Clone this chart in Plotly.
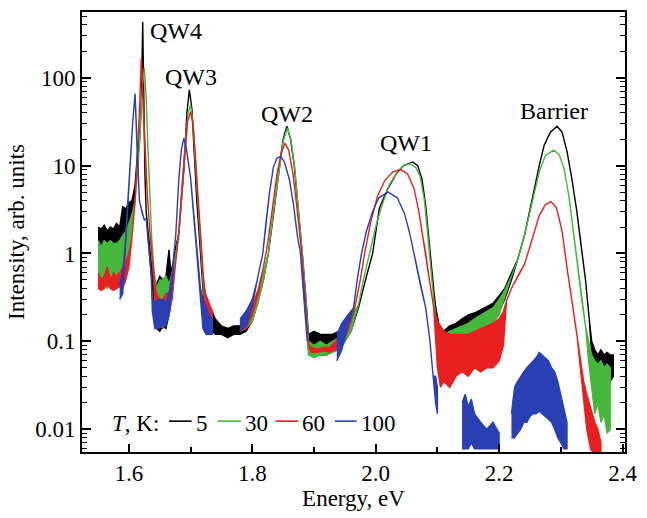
import math
import plotly.graph_objects as go

# Photoluminescence spectra at four temperatures.
# Each spectrum: photon energy (eV), lower and upper edge of the noisy trace.
# A row of None splits the trace where no data were recorded.

E_5K = [1.550, 1.555, 1.560, 1.565, 1.570, 1.575, 1.580, 1.585, 1.590, 1.595,
        1.600, 1.605, 1.610, 1.614, 1.617, 1.620, 1.6224, 1.6245, 1.626, 1.628,
        1.632, 1.636, 1.640, 1.645, 1.650, 1.655, 1.660, 1.665, 1.668, 1.672,
        1.676, 1.681, 1.685, 1.689, 1.694, 1.698, 1.702, 1.706, 1.710, 1.714,
        1.718, 1.722, 1.726, 1.730, 1.735, 1.740, 1.750, 1.760, 1.770, 1.780,
        1.790, 1.800, 1.809, 1.818, 1.826, 1.835, 1.844, 1.850, 1.856, 1.862,
        1.868, 1.875, 1.881, 1.887, 1.891, 1.900, 1.910, 1.920, 1.930, 1.940,
        1.950, 1.960, 1.972, 1.985, 1.995, 2.006, 2.020, 2.033, 2.045, 2.060,
        2.068, 2.075, 2.081, 2.086, 2.091, 2.096, 2.102, 2.110, 2.120, 2.130,
        2.140, 2.150, 2.160, 2.170, 2.180, 2.190, 2.200, 2.209, 2.220, 2.230,
        2.241, 2.250, 2.257, 2.265, 2.273, 2.283, 2.294, 2.302, 2.310, 2.318,
        2.326, 2.333, 2.340, 2.346, 2.350, 2.355, 2.360, 2.365, 2.370, 2.375,
        2.380, 2.385]
LO_5K = [0.95, 0.90, 0.95, 0.90, 1.00, 0.95, 1.00, 1.05, 1.10, 1.20,
         1.60, 2.50, 5.0, 13, 18, 50, 430, 40, 8, 3.0,
         1.3, 0.6, 0.30, 0.14, 0.13, 0.15, 0.14, 0.20, 0.30, 0.50,
         1.0, 1.7, 4, 9, 40, 73, 45, 15, 4, 1.6,
         0.7, 0.25, 0.13, 0.12, 0.13, 0.12, 0.12, 0.11, 0.12, 0.12,
         0.13, 0.17, 0.28, 0.50, 1.0, 3, 10, 20, 28, 20,
         10, 3, 1, 0.3, 0.08, 0.07, 0.07, 0.07, 0.08, 0.08,
         0.10, 0.13, 0.24, 0.55, 1.0, 3.3, 5.5, 8, 10, 11,
         10, 7, 3.5, 1.5, 0.6, 0.28, 0.12, 0.095, 0.10, 0.11,
         0.12, 0.13, 0.15, 0.16, 0.17, 0.19, 0.22, 0.30, 0.50, 0.85,
         1.6, 3.0, 5.3, 10, 17, 24, 28, 24, 14.5, 7,
         3.0, 1.2, 0.5, 0.18, 0.07, 0.04, 0.035, 0.04, 0.035, 0.04,
         0.035, 0.04]
HI_5K = [2.0, 1.9, 2.1, 1.8, 2.0, 1.9, 2.2, 2.0, 3.4, 3.2,
         3.8, 4.0, 6.0, 14, 20, 50, 430, 40, 8, 3.0,
         1.5, 0.8, 0.50, 0.45, 0.55, 0.50, 0.55, 1.10, 0.60, 0.80,
         1.2, 1.7, 4, 9, 40, 73, 45, 15, 4, 1.6,
         0.7, 0.40, 0.30, 0.25, 0.22, 0.18, 0.15, 0.14, 0.15, 0.15,
         0.17, 0.22, 0.32, 0.55, 1.0, 3, 10, 20, 28, 20,
         10, 3, 1, 0.3, 0.12, 0.13, 0.12, 0.12, 0.12, 0.13,
         0.15, 0.18, 0.24, 0.55, 1.0, 3.3, 5.5, 8, 10, 11,
         10, 7, 3.5, 1.5, 0.6, 0.28, 0.16, 0.13, 0.15, 0.16,
         0.18, 0.20, 0.21, 0.23, 0.25, 0.27, 0.33, 0.40, 0.60, 0.85,
         1.6, 3.0, 5.3, 10, 17, 24, 28, 24, 14.5, 7,
         3.0, 1.2, 0.5, 0.18, 0.10, 0.08, 0.07, 0.08, 0.07, 0.075,
         0.07, 0.07]

E_30K = [1.550, 1.555, 1.560, 1.565, 1.570, 1.575, 1.580, 1.585, 1.590, 1.595,
         1.600, 1.605, 1.610, 1.615, 1.619, 1.622, 1.625, 1.628, 1.631, 1.634,
         1.637, 1.641, 1.645, 1.650, 1.655, 1.660, 1.665, 1.670, 1.675, 1.681,
         1.686, 1.691, 1.696, 1.700, 1.704, 1.708, 1.712, 1.716, 1.720, 1.724,
         1.728, 1.735, None, 1.780, 1.790, 1.800, 1.809, 1.818, 1.826, 1.835,
         1.844, 1.850, 1.857, 1.863, 1.869, 1.875, 1.881, 1.887, 1.891, 1.900,
         1.910, 1.920, 1.930, 1.940, 1.950, 1.960, 1.972, 1.980, 1.990, 2.000,
         2.010, 2.022, 2.035, 2.045, 2.055, 2.065, 2.072, 2.079, 2.084, 2.089,
         2.094, 2.100, 2.110, 2.120, 2.130, 2.140, 2.150, 2.160, 2.170, 2.180,
         2.190, 2.200, 2.209, 2.220, 2.230, 2.241, 2.250, 2.257, 2.265, 2.275,
         2.288, 2.297, 2.305, 2.313, 2.321, 2.328, 2.334, 2.340, 2.345, 2.350,
         2.355, 2.360, 2.365, 2.370, 2.375, 2.380]
LO_30K = [0.45, 0.40, 0.45, 0.40, 0.45, 0.40, 0.42, 0.45, 0.50, 0.60,
          1.0, 2.0, 4, 10, 30, 80, 130, 60, 15, 4,
          1.5, 0.6, 0.15, 0.20, 0.20, 0.25, 0.20, 0.35, 0.8, 1.7,
          5, 17, 40, 49, 30, 10, 3.5, 1.3, 0.5, 0.20,
          0.13, 0.13, None, 0.13, 0.14, 0.17, 0.27, 0.50, 1.0, 3.2,
          10, 19, 27, 19, 9, 3, 1, 0.3, 0.07, 0.065,
          0.07, 0.07, 0.075, 0.08, 0.10, 0.13, 0.26, 0.5, 1.0, 2.0,
          3.5, 6, 8.5, 10, 10.5, 9.5, 7.5, 4, 1.8, 0.7,
          0.3, 0.07, 0.075, 0.08, 0.09, 0.10, 0.10, 0.12, 0.13, 0.14,
          0.16, 0.20, 0.32, 0.55, 0.85, 1.6, 3.0, 5.0, 8.5, 13,
          15, 13.5, 9.4, 4.5, 1.65, 0.65, 0.29, 0.15, 0.06, 0.03,
          0.015, 0.02, 0.012, 0.015, 0.009, 0.010]
HI_30K = [1.40, 1.20, 1.40, 1.30, 1.40, 1.30, 1.30, 1.40, 1.60, 1.80,
          2.2, 2.8, 4, 10, 30, 80, 130, 60, 15, 4,
          1.5, 0.6, 0.40, 0.50, 0.50, 0.55, 0.45, 0.60, 0.9, 1.7,
          5, 17, 40, 49, 30, 10, 3.5, 1.3, 0.5, 0.30,
          0.25, 0.20, None, 0.17, 0.19, 0.23, 0.32, 0.60, 1.0, 3.2,
          10, 19, 27, 19, 9, 3, 1, 0.3, 0.10, 0.09,
          0.10, 0.09, 0.10, 0.11, 0.14, 0.19, 0.26, 0.5, 1.0, 2.0,
          3.5, 6, 8.5, 10, 10.5, 9.5, 7.5, 4, 1.8, 0.7,
          0.3, 0.14, 0.12, 0.13, 0.14, 0.15, 0.16, 0.18, 0.20, 0.22,
          0.24, 0.30, 0.38, 0.55, 0.85, 1.6, 3.0, 5.0, 8.5, 13,
          15, 13.5, 9.4, 4.5, 1.65, 0.65, 0.29, 0.15, 0.10, 0.07,
          0.06, 0.055, 0.06, 0.05, 0.055, 0.05]

E_60K = [1.550, 1.555, 1.560, 1.565, 1.570, 1.575, 1.580, 1.585, 1.590, 1.595,
         1.600, 1.605, 1.610, 1.614, 1.617, 1.620, 1.623, 1.626, 1.630, 1.634,
         1.638, 1.642, 1.645, 1.650, 1.655, 1.660, 1.665, 1.670, 1.675, 1.680,
         1.685, 1.690, 1.695, 1.700, 1.704, 1.708, 1.712, 1.716, 1.720, 1.724,
         1.728, 1.735, None, 1.780, 1.790, 1.800, 1.810, 1.818, 1.825, 1.832,
         1.840, 1.847, 1.853, 1.859, 1.866, 1.873, 1.880, 1.886, 1.890, 1.895,
         1.905, 1.915, 1.925, 1.935, 1.945, 1.955, 1.966, 1.975, 1.982, 1.992,
         2.003, 2.015, 2.028, 2.041, 2.052, 2.062, 2.070, 2.076, 2.081, 2.088,
         2.094, 2.100, 2.105, 2.110, 2.120, 2.130, 2.140, 2.150, 2.160, 2.170,
         2.180, 2.190, 2.200, 2.207, 2.212, 2.220, 2.230, 2.241, 2.250, 2.257,
         2.265, 2.275, 2.284, 2.293, 2.302, 2.310, 2.318, 2.326, 2.333, 2.337,
         2.342, 2.348, 2.355, 2.360, 2.365]
LO_60K = [0.40, 0.38, 0.40, 0.45, 0.40, 0.38, 0.40, 0.42, 0.40, 0.50,
          0.70, 1.5, 4, 14, 40, 165, 60, 15, 4.5, 1.8,
          0.8, 0.35, 0.15, 0.15, 0.14, 0.16, 0.20, 0.30, 0.7, 1.5,
          4, 13, 32, 41, 30, 12, 4.5, 1.6, 0.6, 0.25,
          0.14, 0.13, None, 0.13, 0.14, 0.20, 0.35, 0.7, 1.3, 3,
          8, 14, 18, 15, 8, 3, 1, 0.3, 0.10, 0.075,
          0.075, 0.078, 0.075, 0.08, 0.09, 0.13, 0.24, 0.5, 1.0, 2.3,
          4.5, 6.8, 8.5, 9, 8, 5.5, 3, 1.6, 1.0, 0.45,
          0.24, 0.05, 0.03, 0.035, 0.03, 0.04, 0.045, 0.04, 0.05, 0.045,
          0.05, 0.05, 0.06, 0.09, 0.29, 0.40, 0.55, 0.75, 1.2, 1.8,
          2.7, 3.6, 3.9, 3.3, 1.8, 0.69, 0.28, 0.12, 0.04, 0.02,
          0.01, 0.006, 0.005, 0.004, 0.004]
HI_60K = [0.60, 0.50, 0.55, 0.70, 0.50, 0.60, 0.55, 0.60, 0.70, 0.80,
          1.0, 1.5, 4, 14, 40, 165, 60, 15, 4.5, 1.8,
          0.8, 0.45, 0.35, 0.30, 0.30, 0.35, 0.35, 0.50, 0.7, 1.5,
          4, 13, 32, 41, 30, 12, 4.5, 1.6, 0.6, 0.35,
          0.30, 0.22, None, 0.16, 0.20, 0.25, 0.40, 0.7, 1.3, 3,
          8, 14, 18, 15, 8, 3, 1, 0.3, 0.10, 0.085,
          0.082, 0.085, 0.085, 0.10, 0.13, 0.18, 0.24, 0.5, 1.0, 2.3,
          4.5, 6.8, 8.5, 9, 8, 5.5, 3, 1.6, 1.0, 0.45,
          0.24, 0.17, 0.15, 0.13, 0.12, 0.12, 0.12, 0.12, 0.13, 0.14,
          0.15, 0.16, 0.18, 0.22, 0.29, 0.40, 0.55, 0.75, 1.2, 1.8,
          2.7, 3.6, 3.9, 3.3, 1.8, 0.69, 0.28, 0.12, 0.055, 0.035,
          0.025, 0.018, 0.012, 0.010, 0.007]

E_100K = [1.585, 1.590, 1.594, 1.597, 1.600, 1.602, 1.606, 1.610, 1.613, 1.617,
          1.621, 1.625, 1.628, 1.632, 1.636, 1.638, 1.642, 1.648, 1.655, 1.660,
          1.665, 1.670, 1.673, 1.676, 1.681, 1.685, 1.689, 1.693, 1.700, 1.704,
          1.708, 1.712, 1.716, 1.720, 1.725, 1.730, 1.735, None, 1.780, 1.790,
          1.800, 1.808, 1.817, 1.822, 1.828, 1.834, 1.840, 1.846, 1.852, 1.860,
          1.867, 1.873, 1.878, 1.884, 1.889, None, 1.937, 1.945, 1.955, 1.964,
          1.970, 1.977, 1.985, 1.995, 2.005, 2.020, 2.035, 2.047, 2.055, 2.062,
          2.072, 2.081, 2.088, 2.093, 2.097, 2.100, None, 2.140, 2.145, 2.150,
          2.155, 2.160, 2.170, 2.180, 2.190, 2.200, None, 2.220, 2.225, 2.230,
          2.235, 2.240, 2.245, 2.250, 2.255, 2.260, 2.265, 2.270, 2.275, 2.280,
          2.285, 2.290, 2.295, 2.300, 2.305, 2.310]
LO_100K = [0.30, 0.35, 1.28, 3, 6, 10.3, 30, 66, 17, 4,
           3, 2.4, 2.5, 1.2, 0.6, 0.22, 0.14, 0.14, 0.15, 0.15,
           0.20, 0.40, 1.0, 1.65, 7.2, 15, 20.5, 16, 7.2, 3.5,
           1.65, 0.7, 0.30, 0.14, 0.12, 0.12, 0.12, None, 0.13, 0.15,
           0.25, 0.5, 1.0, 2.2, 5, 9.5, 12.2, 12.7, 11, 7,
           3.5, 1.6, 1.0, 0.35, 0.10, None, 0.06, 0.08, 0.15, 0.24,
           0.5, 1.0, 1.8, 3, 4.3, 5, 4.3, 2.8, 1.7, 1.0,
           0.45, 0.24, 0.10, 0.04, 0.02, 0.015, None, 0.006, 0.006, 0.006,
           0.007, 0.006, 0.006, 0.006, 0.006, 0.006, None, 0.008, 0.008, 0.009,
           0.010, 0.012, 0.012, 0.014, 0.015, 0.015, 0.016, 0.015, 0.014, 0.013,
           0.012, 0.010, 0.008, 0.007, 0.006, 0.006]
HI_100K = [0.45, 0.60, 1.28, 3, 6, 10.3, 30, 66, 17, 4,
           3, 2.4, 2.5, 1.2, 0.6, 0.30, 0.28, 0.30, 0.30, 0.28,
           0.35, 0.60, 1.0, 1.65, 7.2, 15, 20.5, 16, 7.2, 3.5,
           1.65, 0.7, 0.40, 0.30, 0.25, 0.20, 0.18, None, 0.18, 0.22,
           0.30, 0.5, 1.0, 2.2, 5, 9.5, 12.2, 12.7, 11, 7,
           3.5, 1.6, 1.0, 0.35, 0.12, None, 0.12, 0.16, 0.20, 0.24,
           0.5, 1.0, 1.8, 3, 4.3, 5, 4.3, 2.8, 1.7, 1.0,
           0.45, 0.24, 0.10, 0.04, 0.04, 0.03, None, 0.020, 0.025, 0.018,
           0.022, 0.015, 0.012, 0.010, 0.012, 0.009, None, 0.015, 0.030, 0.035,
           0.040, 0.045, 0.050, 0.055, 0.060, 0.065, 0.075, 0.070, 0.065, 0.060,
           0.050, 0.045, 0.035, 0.025, 0.018, 0.012]

SERIES = [
    ("5", E_5K, LO_5K, HI_5K, "#000000"),
    ("30", E_30K, LO_30K, HI_30K, "#45b83c"),
    ("60", E_60K, LO_60K, HI_60K, "#ea2020"),
    ("100", E_100K, LO_100K, HI_100K, "#2840b4"),
]

Y_TICKS = [0.01, 0.1, 1, 10, 100]
Y_TICK_TEXT = ["0.01", "0.1", "1", "10", "100"]
X_TICKS = [1.6, 1.8, 2.0, 2.2, 2.4]
X_TICK_TEXT = ["1.6", "1.8", "2.0", "2.2", "2.4"]
X_MINOR = [1.7, 1.9, 2.1, 2.3]

PEAK_LABELS = ["QW4", "QW3", "QW2", "QW1", "Barrier"]
PEAK_LABEL_POS = [(0.1737, 0.957), (0.2001, 0.853), (0.3775, 0.7692),
                  (0.5976, 0.7014), (0.8686, 0.776)]

FONT = "Liberation Serif"


def band_outline(E, lo, hi):
    """Closed outline (upper edge forward, lower edge back) for each data segment."""
    xs, ys = [], []
    seg = []

    def flush():
        if seg:
            xs.extend([r[0] for r in seg] + [r[0] for r in reversed(seg)] + [None])
            ys.extend([r[2] for r in seg] + [r[1] for r in reversed(seg)] + [None])
            seg.clear()

    for e, l, h in zip(E, lo, hi):
        if e is None:
            flush()
        else:
            seg.append((e, l, h))
    flush()
    return xs, ys


fig = go.Figure()
for name, E, lo, hi, color in SERIES:
    xs, ys = band_outline(E, lo, hi)
    fig.add_trace(go.Scatter(
        x=xs, y=ys, mode="lines", name=f"{name} K",
        line=dict(color=color, width=1.4),
        fill="toself", fillcolor=color,
        connectgaps=False, hoverinfo="skip",
    ))

minor_y = [k * 10.0 ** d for d in range(-3, 3) for k in range(2, 10)]

fig.update_layout(
    width=647, height=518,
    margin=dict(l=82, r=15, t=10, b=66),
    plot_bgcolor="white", paper_bgcolor="white",
    showlegend=False,
    font=dict(family=FONT, size=23, color="black"),
    xaxis=dict(
        range=[1.524, 2.404], tickvals=X_TICKS, ticktext=X_TICK_TEXT,
        ticks="inside", ticklen=8, tickwidth=1.5, tickcolor="black",
        showline=True, linewidth=1.6, linecolor="black", mirror=True,
        showgrid=False, zeroline=False,
        minor=dict(tickvals=X_MINOR, ticks="inside", ticklen=5,
                   tickwidth=1.5, tickcolor="black", showgrid=False),
        title=dict(text="Energy, eV", standoff=4, font=dict(size=23)),
    ),
    yaxis=dict(
        type="log",
        range=[math.log10(0.0055), math.log10(560)],
        tickvals=Y_TICKS, ticktext=Y_TICK_TEXT,
        ticks="inside", ticklen=9, tickwidth=1.5, tickcolor="black",
        showline=True, linewidth=1.6, linecolor="black", mirror="ticks",
        showgrid=False, zeroline=False,
        minor=dict(tickvals=minor_y, ticks="inside", ticklen=5,
                   tickwidth=1.2, tickcolor="black", showgrid=False),
        title=dict(text="Intensity, arb. units", standoff=4, font=dict(size=23)),
    ),
)

for text, (px, py) in zip(PEAK_LABELS, PEAK_LABEL_POS):
    fig.add_annotation(x=px, y=py, xref="paper", yref="paper", text=text,
                       showarrow=False, xanchor="center", yanchor="middle",
                       font=dict(family=FONT, size=24, color="black"))

# Temperature key: label, coloured line swatches and the temperatures
KEY_Y = 0.0656
fig.add_annotation(x=0.0509, y=KEY_Y, xref="paper", yref="paper",
                   text="<i>T</i>, K:", showarrow=False,
                   xanchor="left", yanchor="middle",
                   font=dict(family=FONT, size=23, color="black"))
KEY_SWATCH = [(0.1601, 0.2019), (0.2492, 0.2929), (0.3566, 0.3984), (0.4657, 0.5058)]
KEY_TEXT_X = [0.2056, 0.2965, 0.4020, 0.5094]
for (name, _, _, _, color), (x0, x1), tx in zip(SERIES, KEY_SWATCH, KEY_TEXT_X):
    fig.add_shape(type="line", xref="paper", yref="paper",
                  x0=x0, x1=x1, y0=0.0701, y1=0.0701,
                  line=dict(color=color, width=1.6))
    fig.add_annotation(x=tx, y=KEY_Y, xref="paper", yref="paper",
                       text=name, showarrow=False,
                       xanchor="left", yanchor="middle",
                       font=dict(family=FONT, size=23, color="black"))

fig.write_html("out.html")
